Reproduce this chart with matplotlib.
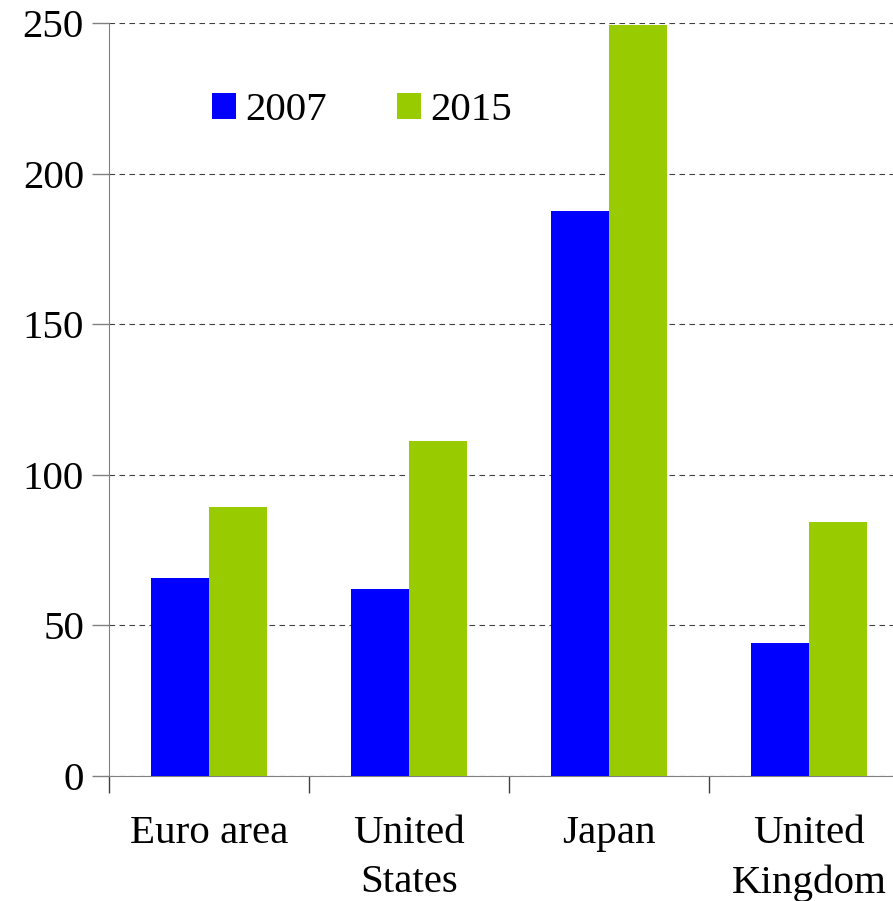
import numpy as np
import matplotlib.pyplot as plt

# --- data ---
categories = ['Euro area', 'United\nStates', 'Japan', 'United\nKingdom']
vals_2007 = [65.7, 62.1, 187.6, 44.2]
vals_2015 = [89.3, 111.2, 249.3, 84.3]
series_labels = ['2007', '2015']
yticks = [0, 50, 100, 150, 200, 250]

COLOR_2007 = '#0000FF'
COLOR_2015 = '#99CC00'
FS = 29.5

plt.rcParams['font.family'] = 'serif'
plt.rcParams['font.serif'] = ['Liberation Serif', 'DejaVu Serif']

W, H = 893, 901
fig = plt.figure(figsize=(W / 100, H / 100), dpi=100)
# axes run past the right edge of the figure, like the original
ax = fig.add_axes([109 / W, 1 - 776 / H, 800 / W, 753 / H])

x = np.arange(len(categories))
bw = 0.29
ax.bar(x - bw / 2, vals_2007, width=bw, color=COLOR_2007, label=series_labels[0], zorder=3)
ax.bar(x + bw / 2, vals_2015, width=bw, color=COLOR_2015, label=series_labels[1], zorder=3)

ax.set_xlim(-0.5, len(categories) - 0.5)
ax.set_ylim(0, 250)
ax.set_yticks(yticks)
ax.tick_params(axis='y', labelsize=FS, length=12, width=1, color='#808080', pad=6)

# category labels between boundary ticks
ax.set_xticks(np.arange(len(categories)) - 0.5)
ax.set_xticklabels([])
ax.set_xticks(x, minor=True)
ax.set_xticklabels(categories, minor=True, fontsize=FS, linespacing=1.45)
ax.tick_params(axis='x', which='major', length=12, width=1, color='#404040', direction='out')
ax.tick_params(axis='x', which='minor', length=0, pad=28)

ax.grid(axis='y', linestyle=(0, (5, 4)), color='#404040', linewidth=0.8, zorder=0)
ax.set_axisbelow(True)

for s in ['top', 'right']:
    ax.spines[s].set_visible(False)
ax.spines['left'].set_color('#808080')
ax.spines['bottom'].set_color('#808080')

ax.legend(loc='upper left', bbox_to_anchor=(0.108, 0.93), ncol=2, frameon=False,
          fontsize=FS, handlelength=0.6, handleheight=0.6, handletextpad=0.22,
          columnspacing=1.7, borderaxespad=0)

fig.savefig('out.png', dpi=100)
